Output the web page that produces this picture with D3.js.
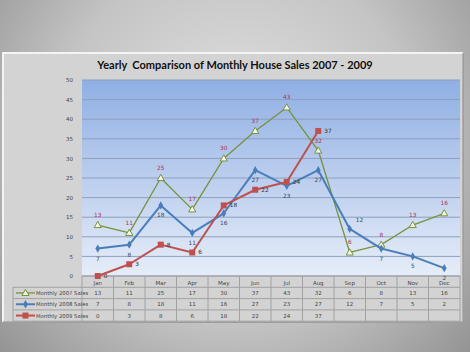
<!DOCTYPE html>
<html><head><meta charset="utf-8">
<script src="https://cdn.jsdelivr.net/npm/d3@7"></script>
<style>html,body{margin:0;padding:0;overflow:hidden;}svg{display:block;}</style>
</head><body>
<script>
const months = ["Jan","Feb","Mar","Apr","May","Jun","Jul","Aug","Sep","Oct","Nov","Dec"];
const sales2007 = [13,11,25,17,30,37,43,32,6,8,13,16];
const sales2008 = [7,8,18,11,16,27,23,27,12,7,5,2];
const sales2009 = [0,3,8,6,18,22,24,37];
const yTicks = [0,5,10,15,20,25,30,35,40,45,50];
const seriesNames = ["Monthly 2007 Sales","Monthly 2008 Sales","Monthly 2009 Sales"];
const title = "Yearly  Comparison of Monthly House Sales 2007 - 2009";

const W = 470, H = 352;
const svg = d3.select("body").append("svg").attr("width", W).attr("height", H);
const defs = svg.append("defs");

const bg = defs.append("radialGradient").attr("id","bg").attr("gradientUnits","userSpaceOnUse")
  .attr("cx",235).attr("cy",140).attr("r",330);
bg.append("stop").attr("offset","0%").attr("stop-color","#e4e4e4");
bg.append("stop").attr("offset","55%").attr("stop-color","#c4c4c4");
bg.append("stop").attr("offset","100%").attr("stop-color","#8f8f8f");
svg.append("rect").attr("width",W).attr("height",H).attr("fill","url(#bg)");

// panel
const panel = {x:3, y:53, w:460, h:269};
svg.append("rect").attr("x",panel.x+1).attr("y",panel.y+1).attr("width",panel.w).attr("height",panel.h).attr("fill","#8a8a8a");
svg.append("rect").attr("x",panel.x).attr("y",panel.y).attr("width",panel.w).attr("height",panel.h).attr("fill","#d3d3d3");
svg.append("path").attr("d",`M${panel.x},${panel.y+panel.h}V${panel.y}H${panel.x+panel.w}`).attr("stroke","#f4f4f4").attr("stroke-width",2).attr("fill","none");
svg.append("path").attr("d",`M${panel.x+panel.w},${panel.y}V${panel.y+panel.h}H${panel.x}`).attr("stroke","#a5a5a5").attr("stroke-width",1.5).attr("fill","none");

svg.append("text").attr("x",235).attr("y",69).attr("text-anchor","middle")
  .attr("font-family","Lato, 'Open Sans', sans-serif").attr("font-weight","bold").attr("font-size",11)
  .attr("fill","#111").attr("xml:space","preserve").style("white-space","pre").text(title);

const plot = {l:82, r:460, t:80, b:276};
const x = d3.scaleBand().domain(months).range([plot.l, plot.r]);
const y = d3.scaleLinear().domain([0,50]).range([plot.b, plot.t]);
const cx = m => x(m) + x.bandwidth()/2;

const pg = defs.append("linearGradient").attr("id","pg").attr("x1",0).attr("y1",0).attr("x2",0).attr("y2",1);
pg.append("stop").attr("offset","0%").attr("stop-color","#90afe4");
pg.append("stop").attr("offset","100%").attr("stop-color","#e6edf8");
svg.append("rect").attr("x",plot.l).attr("y",plot.t).attr("width",plot.r-plot.l).attr("height",plot.b-plot.t).attr("fill","url(#pg)");

// gridlines
svg.append("g").selectAll("line").data(yTicks).join("line")
  .attr("x1",plot.l).attr("x2",plot.r).attr("y1",d=>y(d)).attr("y2",d=>y(d))
  .attr("stroke","#8d9fbd").attr("stroke-width",1);

// y axis
const ya = svg.append("g").attr("transform",`translate(${plot.l},0)`)
  .call(d3.axisLeft(y).tickValues(yTicks).tickSize(0).tickPadding(9));
ya.select(".domain").remove();
ya.selectAll("text").attr("font-family","'DejaVu Sans', sans-serif").attr("font-size",5.5).attr("fill","#444");

// table
const rowH = 11.3, tTop = plot.b, legL = 13;
const tg = svg.append("g");
const tableRows = 4;
for (let i=0;i<=tableRows;i++){
  const yy = tTop + i*rowH;
  tg.append("line").attr("x1", i===0?plot.l:legL).attr("x2",plot.r).attr("y1",yy).attr("y2",yy).attr("stroke","#a2a2a2");
}
const xs = months.map(m=>x(m)).concat([plot.r]);
xs.forEach(v=>tg.append("line").attr("x1",v).attr("x2",v).attr("y1",tTop).attr("y2",tTop+tableRows*rowH).attr("stroke","#a2a2a2"));
tg.append("line").attr("x1",legL).attr("x2",legL).attr("y1",tTop+rowH).attr("y2",tTop+tableRows*rowH).attr("stroke","#a2a2a2");

const xa = svg.append("g").attr("transform",`translate(0,${plot.b})`).call(d3.axisBottom(x).tickSize(0).tickPadding(5));
xa.select(".domain").remove();
xa.selectAll("text").attr("font-family","'DejaVu Sans', sans-serif").attr("font-size",5.5).attr("fill","#444");

const series = [
  {name:seriesNames[0], data:sales2007, color:"#77933c", lw:1.3, marker:"tri", lab:"#b0305a", pos:"above"},
  {name:seriesNames[1], data:sales2008, color:"#4a7ebb", lw:2, marker:"dia", lab:"#3c4a5e", pos:"below"},
  {name:seriesNames[2], data:sales2009, color:"#c0504d", lw:2, marker:"sq", lab:"#333", pos:"right"}
];

function marker(g, type, color, px, py){
  if(type==="tri") g.append("path").attr("d",d3.symbol(d3.symbolTriangle,22)()).attr("transform",`translate(${px},${py+0.5})`).attr("fill","#f6f9e8").attr("stroke",color).attr("stroke-width",1);
  else if(type==="dia") g.append("path").attr("d",d3.symbol(d3.symbolDiamond,20)()).attr("transform",`translate(${px},${py})`).attr("fill",color);
  else g.append("rect").attr("x",px-3).attr("y",py-3).attr("width",6).attr("height",6).attr("fill",color);
}

series.forEach((s,si)=>{
  const rowY = tTop + (si+1)*rowH + rowH/2;
  s.data.forEach((v,i)=>{
    tg.append("text").attr("x",cx(months[i])).attr("y",rowY+2).attr("text-anchor","middle")
      .attr("font-family","'DejaVu Sans', sans-serif").attr("font-size",5.5).attr("fill","#444").text(v);
  });
  tg.append("line").attr("x1",legL+3).attr("x2",legL+22).attr("y1",rowY).attr("y2",rowY).attr("stroke",s.color).attr("stroke-width",s.lw);
  marker(tg, s.marker, s.color, legL+12.5, rowY);
  tg.append("text").attr("x",legL+23).attr("y",rowY+2).attr("font-family","'DejaVu Sans', sans-serif").attr("font-size",5.3).attr("fill","#444").text(s.name);

  const line = d3.line().x((d,i)=>cx(months[i])).y(d=>y(d));
  const g = svg.append("g");
  g.append("path").attr("d",line(s.data)).attr("fill","none").attr("stroke",s.color).attr("stroke-width",s.lw).attr("stroke-linejoin","round");
  s.data.forEach((v,i)=>marker(g, s.marker, s.color, cx(months[i]), y(v)));
  s.data.forEach((v,i)=>{
    let lx = cx(months[i]), ly = y(v), anchor = "middle";
    if (s.pos==="above") ly -= 8;
    else if (s.pos==="below") { ly += 12; if (i===8){ lx += 6; ly -= 19; anchor="start"; } }
    else { lx += 6; ly += 2; anchor="start"; }
    svg.append("text").attr("x",lx).attr("y",ly).attr("text-anchor",anchor)
      .attr("font-family","'DejaVu Sans', sans-serif").attr("font-size",5.8).attr("fill",s.lab).text(v);
  });
});
</script>
</body></html>
